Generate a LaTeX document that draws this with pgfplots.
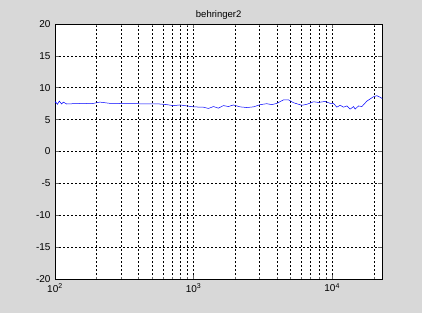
\documentclass[border=0pt]{standalone}
\usepackage{pgfplots}
\pgfplotsset{compat=1.18}
\usepackage{fontspec}
\setmainfont{Liberation Sans}
\definecolor{figbg}{RGB}{216,216,216}
\begin{document}
\begin{tikzpicture}[x=1pt,y=1pt]
\fill[figbg] (0,0) rectangle (422,313);
\begin{axis}[
  at={(55pt,34pt)}, anchor=south west,
  scale only axis, width=327.3pt, height=255pt,
  xmode=log, xmin=100, xmax=23000,
  ymin=-20, ymax=20,
  ytick={-20,-15,...,20},
  xtick={100,1000,10000},
  xticklabels={10\textsuperscript{2},10\textsuperscript{3},10\textsuperscript{4}},
  minor xtick={200,300,400,500,600,700,800,900,2000,3000,4000,5000,6000,7000,8000,9000,20000},
  grid=both,
  major grid style={black, line width=0.5pt, dash pattern=on 2pt off 2pt},
  minor grid style={black, line width=0.5pt, dash pattern=on 2pt off 2pt},
  axis line style={black, line width=0.6pt},
  axis background/.style={fill=white},
  tick align=inside,
  major tick length=4pt, minor tick length=2.5pt,
  tick style={black!60, line width=0.5pt},
  /pgf/number format/assume math mode=true,
  tick label style={font=\fontsize{10}{12}\selectfont},
  yticklabel style={xshift=-1pt},
  xticklabel style={yshift=-1pt},
  title={behringer2},
  title style={font=\fontsize{9.5}{11}\selectfont, at={(0.5,1)}, anchor=south, yshift=-5pt},
]
\addplot[blue, line width=0.5pt] coordinates {
(100,7.6) (101,7.8) (104,7.4) (107.5,7.9) (111.7,7.45) (114.8,7.75) (121.4,7.45)
(135.6,7.5) (160.2,7.55) (185,7.5) (200,7.65) (211,7.75) (249.6,7.55) (367.9,7.5)
(573,7.45) (640,7.35) (715,7.2) (799,7.3) (893,7.15) (997,7.0) (1178,6.95)
(1280,6.75) (1391,7.05) (1511,6.8) (1642,7.2) (1784,7.05) (1939,7.3) (2167,7.0)
(2421,6.9) (2704,7.0) (3021,7.35) (3376,7.5) (3668,7.35) (3986,7.55) (4453,8.1)
(4838,8.1) (5258,7.65) (6039,7.25) (6563,7.4) (7333,7.8) (7968,7.7) (8902,7.85)
(9674,7.55) (10223,7.55) (10806,6.95) (11424,7.25) (12070,6.95) (12763,7.15)
(13490,6.65) (14256,7.05) (14657,6.65) (15494,7.15) (16378,7.05) (17796,7.9)
(19880,8.6) (21016,8.75) (22217,8.5) (23000,8.3)
};
\end{axis}
\pgfresetboundingbox
\useasboundingbox (0,0) rectangle (422,313);
\end{tikzpicture}
\end{document}
